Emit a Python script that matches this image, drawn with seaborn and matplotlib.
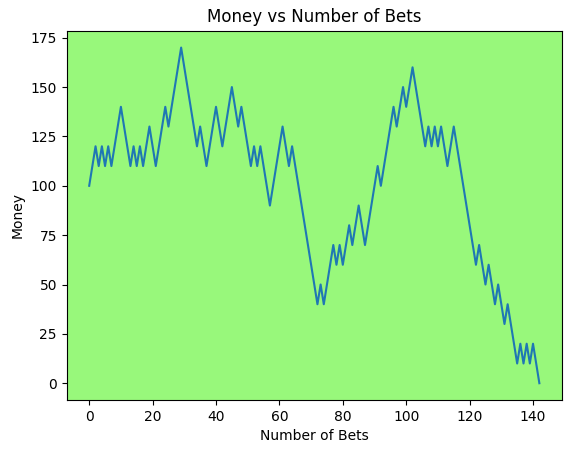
import numpy as np
import pandas as pd
from matplotlib import pyplot as plt
import seaborn as sns

# Dinero después de cada apuesta
money = [
    100, 110, 120, 110, 120, 110, 120, 110, 120, 130,
    140, 130, 120, 110, 120, 110, 120, 110, 120, 130,
    120, 110, 120, 130, 140, 130, 140, 150, 160, 170,
    160, 150, 140, 130, 120, 130, 120, 110, 120, 130,
    140, 130, 120, 130, 140, 150, 140, 130, 140, 130,
    120, 110, 120, 110, 120, 110, 100, 90, 100, 110,
    120, 130, 120, 110, 120, 110, 100, 90, 80, 70,
    60, 50, 40, 50, 40, 50, 60, 70, 60, 70,
    60, 70, 80, 70, 80, 90, 80, 70, 80, 90,
    100, 110, 100, 110, 120, 130, 140, 130, 140, 150,
    140, 150, 160, 150, 140, 130, 120, 130, 120, 130,
    120, 130, 120, 110, 120, 130, 120, 110, 100, 90,
    80, 70, 60, 70, 60, 50, 60, 50, 40, 50,
    40, 30, 40, 30, 20, 10, 20, 10, 20, 10,
    20, 10, 0,
]
bets = list(range(len(money)))

df = pd.DataFrame({'Number of Bets': bets, 'Money': money})

fig, ax = plt.subplots(figsize=(5.71, 4.53), dpi=100)
fig.subplots_adjust(left=0.1168, right=0.984, top=0.932, bottom=0.117)

sns.lineplot(data=df, x='Number of Bets', y='Money', ax=ax, color='#1f77b4')
ax.set_facecolor('#98f87b')
ax.set_title('Money vs Number of Bets')
ax.set_xlabel('Number of Bets')
ax.set_ylabel('Money')

fig.savefig('out.png', dpi=100)
